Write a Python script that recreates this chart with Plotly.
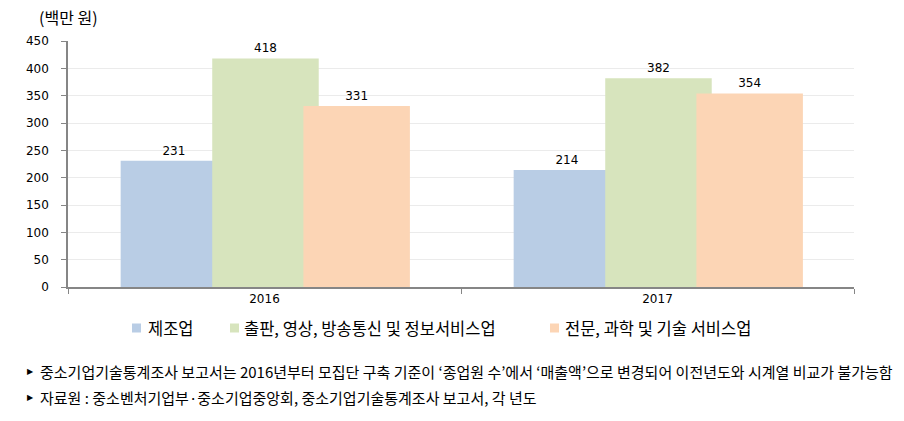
import plotly.graph_objects as go

years = ["2016", "2017"]
series_names = ["제조업", "출판, 영상, 방송통신 및 정보서비스업", "전문, 과학 및 기술 서비스업"]
manufacturing = [231, 214]
publishing_ict = [418, 382]
professional = [331, 354]
series_values = [manufacturing, publishing_ict, professional]
colors = ["#b9cde5", "#d7e4bd", "#fcd5b5"]
offsets = [-0.366, -0.133, 0.099]
bar_width = 0.271

y_ticks = list(range(0, 451, 50))
unit_label = "(백만 원)"
notes = [
    "중소기업기술통계조사 보고서는 2016년부터 모집단 구축 기준이 ‘종업원 수’에서 ‘매출액’으로 변경되어 이전년도와 시계열 비교가 불가능함",
    "자료원 : 중소벤처기업부·중소기업중앙회, 중소기업기술통계조사 보고서, 각 년도",
]

FONT = "Noto Sans CJK KR"
NUMFONT = "DejaVu Sans"
W, H = 904, 421
L, R, T, B = 68, 50, 41, 134
PW = W - L - R
PH = H - T - B

fig = go.Figure()
for name, vals, col, off in zip(series_names, series_values, colors, offsets):
    fig.add_trace(go.Bar(
        x=years, y=vals, name=name,
        marker=dict(color=col, line=dict(width=0)),
        width=bar_width, offset=off,
        text=[str(v) for v in vals], textposition="outside",
        textfont=dict(family=NUMFONT, size=12, color="#000000"),
        cliponaxis=False, showlegend=False,
    ))

fig.update_layout(
    width=W, height=H,
    margin=dict(l=L, r=R, t=T, b=B),
    barmode="overlay",
    plot_bgcolor="white", paper_bgcolor="white",
    font=dict(family=FONT, size=12, color="#000000"),
    showlegend=False,
    xaxis=dict(
        type="category", range=[-0.5, 1.5],
        tickson="boundaries", ticks="outside", ticklen=5, tickcolor="#868686",
        showline=True, linecolor="#868686", linewidth=1.5,
        tickfont=dict(family=NUMFONT, size=12, color="#000000"),
        showgrid=False,
    ),
    yaxis=dict(
        range=[0, 450], tickvals=y_ticks, ticks="outside", ticklen=5,
        tickcolor="#868686", showline=True, linecolor="#868686", linewidth=1.5,
        showgrid=True, gridcolor="#ebebeb", gridwidth=1,
        tickfont=dict(family=NUMFONT, size=12, color="#000000"),
        ticklabelstandoff=10,
        zeroline=False,
    ),
)

def px_x(x):
    return (x - L) / PW

def px_y(y):
    return (H - B - y) / PH

fig.add_annotation(text=unit_label, xref="paper", yref="paper",
                   x=px_x(37), y=px_y(17), xanchor="left", yanchor="middle",
                   showarrow=False, font=dict(family=FONT, size=16, color="#000000"))

# manual legend
legend_sq = [132, 230, 550]
legend_tx = [146, 242, 563]
ly = 328
for name, col, sx, tx in zip(series_names, colors, legend_sq, legend_tx):
    fig.add_shape(type="rect", xref="paper", yref="paper",
                  x0=px_x(sx), x1=px_x(sx + 9), y0=px_y(ly - 4.5), y1=px_y(ly + 4.5),
                  fillcolor=col, line=dict(width=0))
    fig.add_annotation(text=name, xref="paper", yref="paper",
                       x=px_x(tx), y=px_y(ly), xanchor="left", yanchor="middle",
                       showarrow=False, font=dict(family=FONT, size=16.5, color="#000000"))

for i, note in enumerate(notes):
    yy = 371 + i * 26
    fig.add_annotation(text="▶", xref="paper", yref="paper",
                       x=px_x(25), y=px_y(yy), xanchor="left", yanchor="middle",
                       showarrow=False, font=dict(family=NUMFONT, size=8, color="#000000"))
    fig.add_annotation(text=note, xref="paper", yref="paper",
                       x=px_x(38), y=px_y(yy), xanchor="left", yanchor="middle",
                       showarrow=False, font=dict(family=FONT, size=15, color="#000000"))

fig.write_html("out.html")
